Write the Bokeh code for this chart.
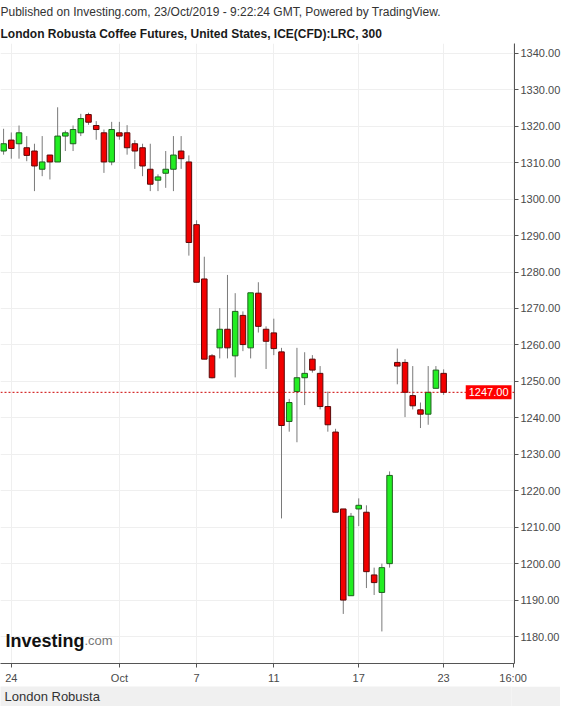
from bokeh.plotting import figure
from bokeh.models import (Range1d, FixedTicker, Label, Span, NumeralTickFormatter,
                          ColumnDataSource, Title)
from bokeh.layouts import column
from bokeh.embed import file_html
from bokeh.resources import INLINE

# ---- data (5h bars, London Robusta Coffee, ICE) ----
opens = [1313.2, 1316.2, 1315.2, 1314.1, 1313.2, 1308.2, 1312.1, 1310.2, 1317.3, 1315.2,
         1318.2, 1323.2, 1320.2, 1318.2, 1310.2, 1318.2, 1318.2, 1315.2, 1314.1, 1308.2,
         1305.2, 1307.1, 1308.2, 1313.2, 1310.2, 1293.0, 1278.1, 1257.0, 1259.2, 1264.3,
         1257.0, 1268.1, 1259.2, 1274.2, 1264.3, 1263.3, 1258.1, 1239.0, 1247.2, 1251.0,
         1256.1, 1252.2, 1243.1, 1236.1, 1215.0, 1191.2, 1215.0, 1214.1, 1196.9, 1192.1,
         1200.0, 1255.2, 1255.2, 1246.1, 1242.2, 1241.0, 1248.1, 1252.2]
highs = [1319.3, 1318.3, 1320.2, 1317.3, 1315.2, 1317.3, 1312.1, 1325.2, 1318.8, 1320.2,
         1323.4, 1323.7, 1321.4, 1319.1, 1321.2, 1321.2, 1320.3, 1316.2, 1315.2, 1315.2,
         1306.8, 1313.2, 1317.3, 1317.3, 1312.0, 1294.2, 1284.2, 1257.5, 1270.1, 1279.2,
         1274.2, 1269.2, 1274.3, 1277.2, 1265.1, 1267.2, 1259.2, 1245.2, 1259.2, 1258.0,
         1257.2, 1254.2, 1247.2, 1237.0, 1215.0, 1213.9, 1217.9, 1216.0, 1198.9, 1200.0,
         1225.3, 1259.0, 1256.1, 1254.2, 1244.2, 1254.2, 1254.2, 1253.3]
lows = [1312.2, 1311.1, 1311.1, 1310.4, 1302.2, 1306.3, 1305.4, 1310.2, 1313.2, 1313.2,
        1317.3, 1320.4, 1316.3, 1307.2, 1309.3, 1316.3, 1312.2, 1308.3, 1306.3, 1302.2,
        1302.2, 1303.1, 1302.2, 1308.3, 1284.5, 1277.2, 1256.1, 1250.8, 1256.3, 1256.3,
        1251.1, 1258.3, 1256.3, 1263.4, 1253.4, 1257.2, 1212.4, 1236.2, 1233.3, 1243.5,
        1252.4, 1242.3, 1236.2, 1214.1, 1186.2, 1191.2, 1210.3, 1193.3, 1191.4, 1181.4,
        1198.9, 1249.2, 1240.2, 1242.3, 1237.2, 1238.1, 1248.1, 1246.3]
closes = [1315.2, 1313.9, 1318.2, 1312.0, 1309.1, 1310.2, 1310.2, 1317.3, 1318.2, 1319.1,
          1322.1, 1321.1, 1319.1, 1310.2, 1319.1, 1317.3, 1314.1, 1313.2, 1309.1, 1304.1,
          1306.1, 1308.2, 1312.1, 1311.1, 1288.1, 1277.2, 1256.1, 1251.0, 1264.3, 1259.2,
          1269.2, 1260.1, 1274.3, 1265.1, 1261.0, 1259.0, 1237.9, 1244.2, 1251.0, 1252.2,
          1253.1, 1243.1, 1238.1, 1214.1, 1190.0, 1213.0, 1216.0, 1197.8, 1194.8, 1198.9,
          1224.2, 1254.2, 1247.0, 1243.3, 1241.0, 1247.0, 1253.1, 1247.0]

x_tick_pos = [1, 15, 25, 35, 46, 57, 66]
x_tick_labels = ["24", "Oct", "7", "11", "17", "23", "16:00"]
y_ticks = list(range(1180, 1341, 10))
last_price = 1247.0

header_line = "Published on Investing.com, 23/Oct/2019 - 9:22:24 GMT, Powered by TradingView."
title_line = "London Robusta Coffee Futures, United States, ICE(CFD):LRC, 300"
footer_text = "London Robusta"

FONT = "Liberation Sans"
UP = "#22ee22"
DOWN = "#f20000"

idx = list(range(len(opens)))
tops = [max(o, c) for o, c in zip(opens, closes)]
bots = [min(o, c) for o, c in zip(opens, closes)]
fills = [UP if c >= o else DOWN for o, c in zip(opens, closes)]
edges = ["#1f5f1f" if c >= o else "#5a0a0a" for o, c in zip(opens, closes)]
src = ColumnDataSource(dict(x=idx, high=highs, low=lows, top=tops, bottom=bots,
                            fill=fills, edge=edges))

FRAME_W, FRAME_H = 514, 620
p = figure(frame_width=FRAME_W, frame_height=FRAME_H,
           x_range=Range1d(-0.4, 66.18), y_range=Range1d(1172.6, 1342.7),
           y_axis_location="right", output_backend="svg", toolbar_location=None,
           min_border_left=0, min_border_right=46, min_border_top=0, min_border_bottom=20)
p.outline_line_color = None
p.background_fill_color = "white"
p.border_fill_color = "white"

# header lines (titles stack outward: last added is on top)
p.add_layout(Title(text=title_line, align="left", text_font=FONT, text_font_size="12px",
                   text_font_style="bold", text_color="#1a1a1a", standoff=6, offset=0), "above")
p.add_layout(Title(text=header_line, align="left", text_font=FONT, text_font_size="12px",
                   text_font_style="normal", text_color="#333333", standoff=5, offset=0), "above")

# grids
p.xgrid.ticker = FixedTicker(ticks=x_tick_pos)
p.ygrid.ticker = FixedTicker(ticks=y_ticks)
p.grid.grid_line_color = "#efefef"
p.grid.grid_line_width = 1

# axes
for ax in (p.xaxis[0], p.yaxis[0]):
    ax.axis_line_color = "#555555"
    ax.major_tick_line_color = "#555555"
    ax.major_tick_out = 4
    ax.major_tick_in = 0
    ax.minor_tick_line_color = None
    ax.major_label_text_font = FONT
    ax.major_label_text_font_size = "11px"
    ax.major_label_text_color = "#4a4a4a"
    ax.major_label_standoff = 2
p.yaxis[0].ticker = FixedTicker(ticks=y_ticks)
p.yaxis[0].formatter = NumeralTickFormatter(format="0.00")
p.xaxis[0].ticker = FixedTicker(ticks=x_tick_pos)
p.xaxis[0].major_label_overrides = {t: l for t, l in zip(x_tick_pos, x_tick_labels)}
p.xaxis[0].major_label_standoff = 4

# candles
p.segment(x0="x", y0="low", x1="x", y1="high", source=src, line_color="#7a7a7a", line_width=1)
p.vbar(x="x", width=0.72, top="top", bottom="bottom", source=src,
       fill_color="fill", line_color="edge", line_width=1)

# last price line & tag (tag kept at the frame's right edge)
p.add_layout(Span(location=last_price, dimension="width", line_color="#cc0000",
                  line_dash="2 2", line_width=1))
p.add_layout(Label(x=FRAME_W - 3, y=last_price, x_units="screen", y_units="data",
                   text=f"{last_price:.2f}", text_color="white", text_font=FONT,
                   text_font_size="11px", text_baseline="middle", text_align="right",
                   background_fill_color="#ff0000", padding=3))

# investing.com watermark
p.add_layout(Label(x=5, y=23, x_units="screen", y_units="screen", text="Investing",
                   text_font=FONT, text_font_size="18px", text_font_style="bold",
                   text_color="#111111", text_baseline="alphabetic"))
p.add_layout(Label(x=84, y=23, x_units="screen", y_units="screen", text=".com",
                   text_font=FONT, text_font_size="13px",
                   text_color="#777777", text_baseline="alphabetic"))

# footer band
f = figure(width=FRAME_W + 46, height=20, x_range=Range1d(0, 1), y_range=Range1d(0, 1),
           output_backend="svg", toolbar_location=None, min_border=0)
f.axis.visible = False
f.grid.visible = False
f.outline_line_color = None
f.background_fill_color = "#f0f0f0"
f.border_fill_color = "#f0f0f0"
f.add_layout(Label(x=4, y=10, x_units="screen", y_units="screen", text=footer_text,
                   text_font=FONT, text_font_size="13px", text_color="#333333",
                   text_baseline="middle"))

layout = column(p, f, spacing=0)
open("out.html", "w").write(file_html(layout, INLINE))
